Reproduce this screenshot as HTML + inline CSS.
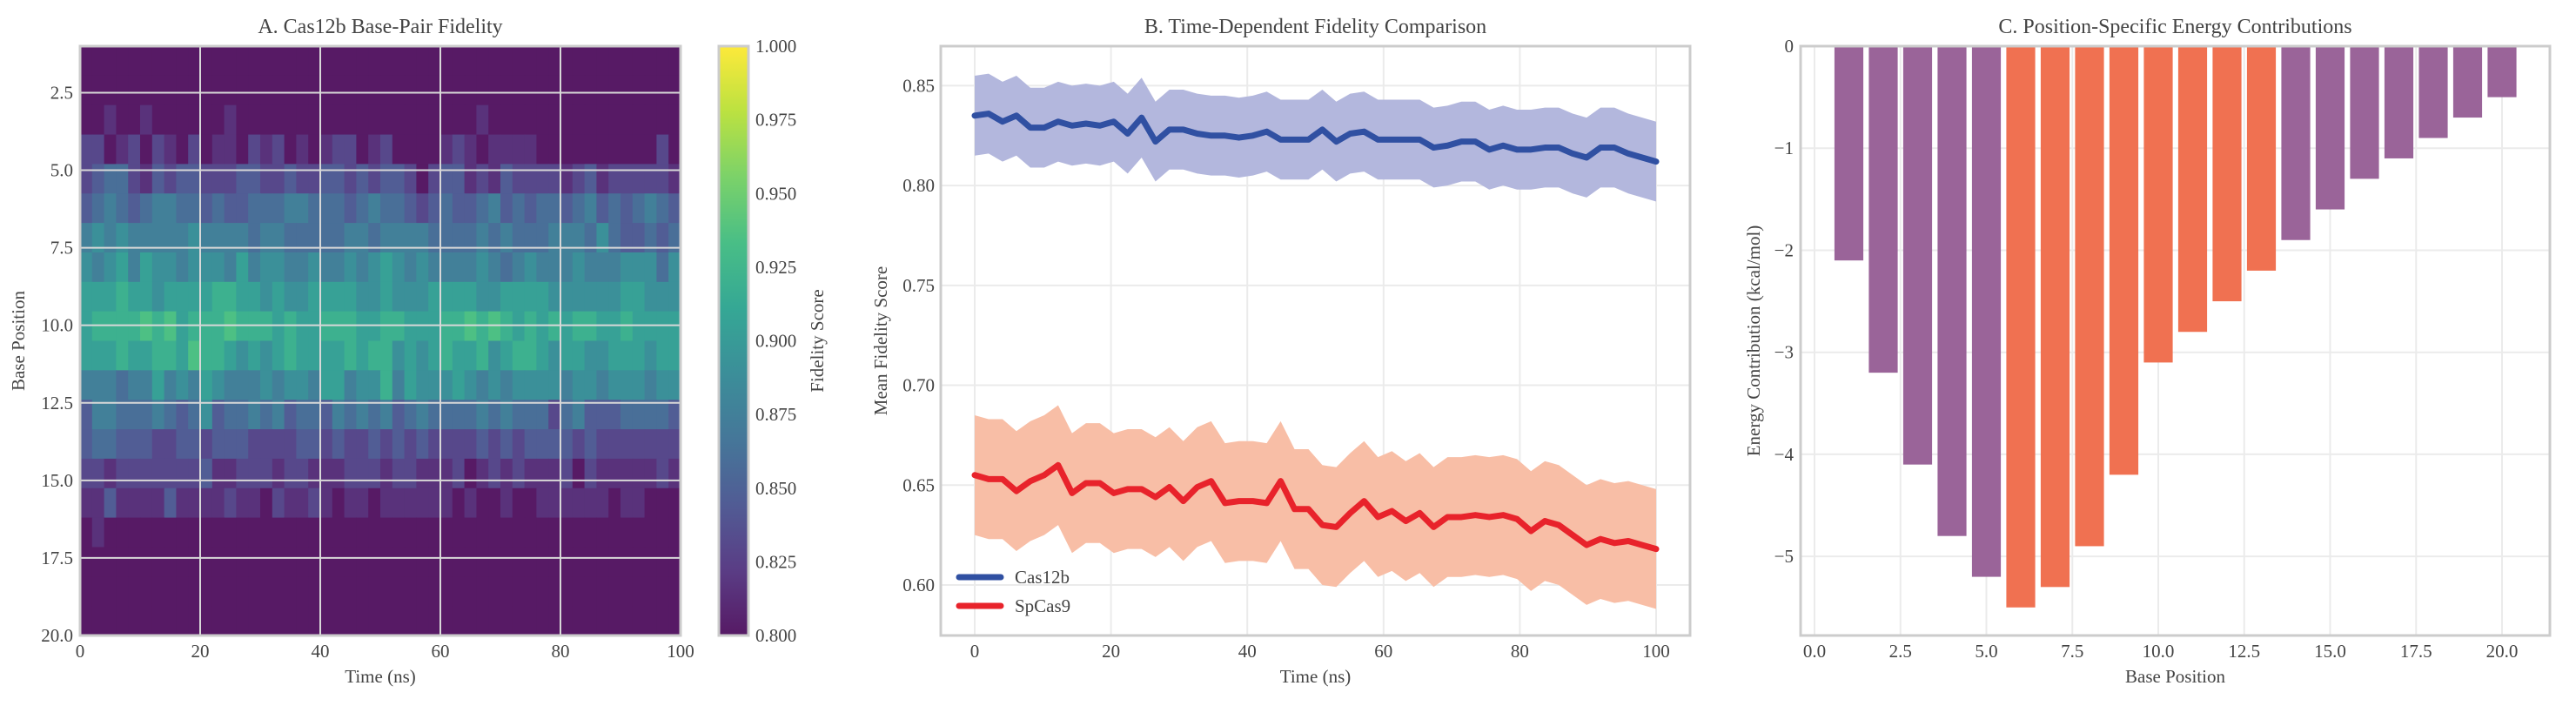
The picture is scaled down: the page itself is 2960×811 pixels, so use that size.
<!DOCTYPE html>
<html><head><meta charset="utf-8"><style>
body{margin:0;background:#fff;}
svg{display:block;font-family:"Liberation Serif",serif;}
</style></head><body>
<svg id="fig" width="2960" height="811" viewBox="0 0 2960 811" xmlns="http://www.w3.org/2000/svg"></svg>
<script>
// ---------- Panel A data ----------
const heatRows = [
"00000000000000000000000000000000000000000000000000",
"00000000000000000000000000000000000000000000000000",
"00100100000010000000000000000000010000000000000000",
"22012021020110212010122012000012101111000000000020",
"23442132332223322322332323320233121322221231222221",
"34543455443433444554443454432343345343443453434543",
"56565555565555455444445545555444454544455546433434",
"65675766566657566556556567656555565456555655566646",
"77787767777887767667777667666777766777766666677666",
"78888989788898887877888778877788989878787887787777",
"77787788798876767877778788676787786788767766777677",
"55545575657655565665775668576667656566665665666566",
"35544454346344545344354545345444454544424533344443",
"34433322332333222233232232323222232323333232222222",
"22122222223112221221112221221112012121112021111121",
"11311113111121102112101101111110100100111111011000",
"01000000000000000000000000000000000000000000000000",
"00000000000000000000000000000000000000000000000000",
"00000000000000000000000000000000000000000000000000",
"00000000000000000000000000000000000000000000000000"
];
const heatXTicks = [0,20,40,60,80,100];
const heatYTicks = [2.5,5.0,7.5,10.0,12.5,15.0,17.5,20.0];
const cbarTicks = [0.800,0.825,0.850,0.875,0.900,0.925,0.950,0.975,1.000];
// ---------- Panel B data ----------
const cas12bMean = [.835,.836,.832,.835,.829,.829,.832,.830,.831,.830,.832,.826,.834,.822,.828,.828,.826,.825,.825,.824,.825,.827,.823,.823,.823,.828,.822,.826,.827,.823,.823,.823,.823,.819,.820,.822,.822,.818,.820,.818,.818,.819,.819,.816,.814,.819,.819,.816,.814,.812];
const cas12bSd = [.02,.02,.02,.02,.02,.02,.02,.02,.02,.02,.02,.02,.02,.02,.02,.02,.02,.02,.02,.02,.02,.02,.02,.02,.02,.02,.02,.02,.02,.02,.02,.02,.02,.02,.02,.02,.02,.02,.02,.02,.02,.02,.02,.02,.02,.02,.02,.02,.02,.02];
const spcas9Mean = [.655,.653,.653,.647,.652,.655,.660,.646,.651,.651,.646,.648,.648,.644,.649,.642,.649,.652,.641,.642,.642,.641,.652,.638,.638,.630,.629,.636,.642,.634,.637,.632,.636,.629,.634,.634,.635,.634,.635,.633,.627,.632,.630,.625,.620,.623,.621,.622,.620,.618];
const spcas9Sd = [.03,.03,.03,.03,.03,.03,.03,.03,.03,.03,.03,.03,.03,.03,.03,.03,.03,.03,.03,.03,.03,.03,.03,.03,.03,.03,.03,.03,.03,.03,.03,.03,.03,.03,.03,.03,.03,.03,.03,.03,.03,.03,.03,.03,.03,.03,.03,.03,.03,.03];
const lineXTicks = [0,20,40,60,80,100];
const lineYTicks = [0.60,0.65,0.70,0.75,0.80,0.85];
// ---------- Panel C data ----------
const basePositions = [1,2,3,4,5,6,7,8,9,10,11,12,13,14,15,16,17,18,19,20];
const energyValues = [-2.1,-3.2,-4.1,-4.8,-5.2,-5.5,-5.3,-4.9,-4.2,-3.1,-2.8,-2.5,-2.2,-1.9,-1.6,-1.3,-1.1,-0.9,-0.7,-0.5];
const seedRegion = [false,false,false,false,false,true,true,true,true,true,true,true,true,false,false,false,false,false,false,false];
const barXTicks = [0,2.5,5,7.5,10,12.5,15,17.5,20];
const barYTicks = [0,-1,-2,-3,-4,-5];

const NS="http://www.w3.org/2000/svg";
const svg=document.getElementById('fig');
function mk(tag,attrs,parent){const e=document.createElementNS(NS,tag);for(const k in attrs)e.setAttribute(k,attrs[k]);(parent||svg).appendChild(e);return e;}
function txt(s,x,y,size,anchor,parent,extra){const t=mk('text',Object.assign({x:x,y:y,'font-size':size,'text-anchor':anchor||'middle',fill:'#444'},extra||{}),parent);t.textContent=s;return t;}
const VIR=[[68,1,84],[72,40,120],[62,74,137],[49,104,142],[38,130,142],[31,158,137],[53,183,121],[109,205,89],[180,222,44],[253,231,37]];
function viridis(t){t=Math.max(0,Math.min(1,t));const f=t*(VIR.length-1);const i=Math.min(VIR.length-2,Math.floor(f));const u=f-i;const a=VIR[i],b=VIR[i+1];return 'rgb('+a.map((v,k)=>Math.round(0.9*(v+(b[k]-v)*u)+25.5)).join(',')+')';}

// ================= Panel A =================
const A={l:92,r:782,t:53,b:730};
const gA=mk('g',{});


const axX=v=>A.l+(v/100)*(A.r-A.l);
const axY=v=>A.t+((v-1)/19)*(A.b-A.t);
const nR=heatRows.length, nC=50;
const cw=(A.r-A.l)/nC, ch=(A.b-A.t)/nR;
heatRows.forEach((row,ri)=>{
  const s=row.padEnd(nC,'0');
  for(let ci=0;ci<nC;ci++){
    const val=0.80+parseInt(s[ci])*0.015;
    const c=mk('rect',{x:A.l+ci*cw,y:A.t+ri*ch,width:cw+0.6,height:ch+0.6,fill:viridis((val-0.8)/0.2)},gA);
    
    
  }
});
heatXTicks.forEach(v=>{
  const l=mk('line',{x1:axX(v),x2:axX(v),y1:A.t,y2:A.b,stroke:'#d8d8d8','stroke-width':2},gA);
  
  
  const t=txt(String(v),axX(v),755,21,'middle',gA);
  
  
});
heatYTicks.forEach(v=>{
  const l=mk('line',{x1:A.l,x2:A.r,y1:axY(v),y2:axY(v),stroke:'#d8d8d8','stroke-width':2},gA);
  
  
  const t=txt(v.toFixed(1),84,axY(v)+7,21,'end',gA);
  
  
});
const fA=mk('rect',{x:A.l,y:A.t,width:A.r-A.l,height:A.b-A.t,fill:'none',stroke:'#cccccc','stroke-width':3},gA);


const tA=txt('A. Cas12b Base-Pair Fidelity',(A.l+A.r)/2,38,24,'middle',gA);


const xlA=txt('Time (ns)',(A.l+A.r)/2,784,21,'middle',gA);


const ylA=txt('Base Position',28,(A.t+A.b)/2,21,'middle',gA,{transform:'rotate(-90 28 '+(A.t+A.b)/2+')'});


// colorbar
const defs=mk('defs',{});
const grad=mk('linearGradient',{id:'vg',x1:0,y1:1,x2:0,y2:0},defs);
VIR.forEach((c,i)=>mk('stop',{offset:(i/(VIR.length-1)),'stop-color':'rgb('+c.join(',')+')'},grad));
const CB={l:826,r:860,t:53,b:730};
const cb=mk('rect',{x:CB.l,y:CB.t,width:CB.r-CB.l,height:CB.b-CB.t,fill:'url(#vg)','fill-opacity':0.9,stroke:'#cccccc','stroke-width':3});


cbarTicks.forEach(v=>{
  const y=CB.b-(v-0.8)/0.2*(CB.b-CB.t);
  const t=txt(v.toFixed(3),868,y+7,21,'start');
  
  
});
const cbl=txt('Fidelity Score',946,(CB.t+CB.b)/2,21,'middle',svg,{transform:'rotate(-90 946 '+(CB.t+CB.b)/2+')'});



// ================= Panel B =================
const B={l:1081,r:1942,t:53,b:730};
const gB=mk('g',{});


const bx=v=>1120+(v/100)*(1903-1120);
const by=v=>B.t+(0.8698-v)/(0.8698-0.5747)*(B.b-B.t);
lineXTicks.forEach(v=>{
  const l=mk('line',{x1:bx(v),x2:bx(v),y1:B.t,y2:B.b,stroke:'#ebebeb','stroke-width':2},gB);
  
  
  const t=txt(String(v),bx(v),755,21,'middle',gB);
  
  
});
lineYTicks.forEach(v=>{
  const l=mk('line',{x1:B.l,x2:B.r,y1:by(v),y2:by(v),stroke:'#ebebeb','stroke-width':2},gB);
  
  
  const t=txt(v.toFixed(2),1074,by(v)+7,21,'end',gB);
  
  
});
function series(mean,sd,bandColor,lineColor,name){
  const n=mean.length;const xs=mean.map((_,i)=>bx(i*100/(n-1)));
  let d='M'+xs.map((x,i)=>x+','+by(mean[i]+sd[i])).join('L');
  for(let i=n-1;i>=0;i--)d+='L'+xs[i]+','+by(mean[i]-sd[i]);
  const band=mk('path',{d:d+'Z',fill:bandColor},gB);
  
  
  const ln=mk('polyline',{points:xs.map((x,i)=>x+','+by(mean[i])).join(' '),fill:'none',stroke:lineColor,'stroke-width':7,'stroke-linejoin':'round','stroke-linecap':'round'},gB);
  
  
}
series(cas12bMean,cas12bSd,'#b3b7dd','#3050a2','cas12b');
series(spcas9Mean,spcas9Sd,'#f8bea6','#e8232b','spcas9');
const fB=mk('rect',{x:B.l,y:B.t,width:B.r-B.l,height:B.b-B.t,fill:'none',stroke:'#cccccc','stroke-width':3},gB);


[['Cas12b','#3050a2',663],['SpCas9','#e8232b',696]].forEach(([lab,col,y])=>{
  const g=mk('g',{},gB);
  
  
  mk('line',{x1:1102,x2:1150,y1:y,y2:y,stroke:col,'stroke-width':7,'stroke-linecap':'round'},g);
  txt(lab,1166,y+7,21,'start',g);
});
const tB=txt('B. Time-Dependent Fidelity Comparison',(B.l+B.r)/2,38,24,'middle',gB);


const xlB=txt('Time (ns)',(B.l+B.r)/2,784,21,'middle',gB);


const ylB=txt('Mean Fidelity Score',1019,(B.t+B.b)/2,21,'middle',gB,{transform:'rotate(-90 1019 '+(B.t+B.b)/2+')'});



// ================= Panel C =================
const C={l:2069,r:2930,t:53,b:730};
const gC=mk('g',{});


const cx=v=>2085+(v/20)*(2875-2085);
const cy=v=>C.t+(0-v)/5.775*(C.b-C.t);
barXTicks.forEach(v=>{
  const l=mk('line',{x1:cx(v),x2:cx(v),y1:C.t,y2:C.b,stroke:'#ebebeb','stroke-width':2},gC);
  
  
  const t=txt(v.toFixed(1),cx(v),755,21,'middle',gC);
  
  
});
barYTicks.forEach(v=>{
  const l=mk('line',{x1:C.l,x2:C.r,y1:cy(v),y2:cy(v),stroke:'#ebebeb','stroke-width':2},gC);
  
  
  const t=txt(v===0?'0':'\u2212'+Math.abs(v),2061,cy(v)+7,21,'end',gC);
  
  
});
basePositions.forEach((p,i)=>{
  const v=energyValues[i];
  const r=mk('rect',{x:cx(p-0.42),y:cy(0),width:cx(0.84)-cx(0),height:cy(v)-cy(0),fill:seedRegion[i]?'#f07151':'#9a6499'},gC);
  
  
});
const fC=mk('rect',{x:C.l,y:C.t,width:C.r-C.l,height:C.b-C.t,fill:'none',stroke:'#cccccc','stroke-width':3},gC);


const tC=txt('C. Position-Specific Energy Contributions',(C.l+C.r)/2,38,24,'middle',gC);


const xlC=txt('Base Position',(C.l+C.r)/2,784,21,'middle',gC);


const ylC=txt('Energy Contribution (kcal/mol)',2022,(C.t+C.b)/2,21,'middle',gC,{transform:'rotate(-90 2022 '+(C.t+C.b)/2+')'});


</script>
</body></html>
